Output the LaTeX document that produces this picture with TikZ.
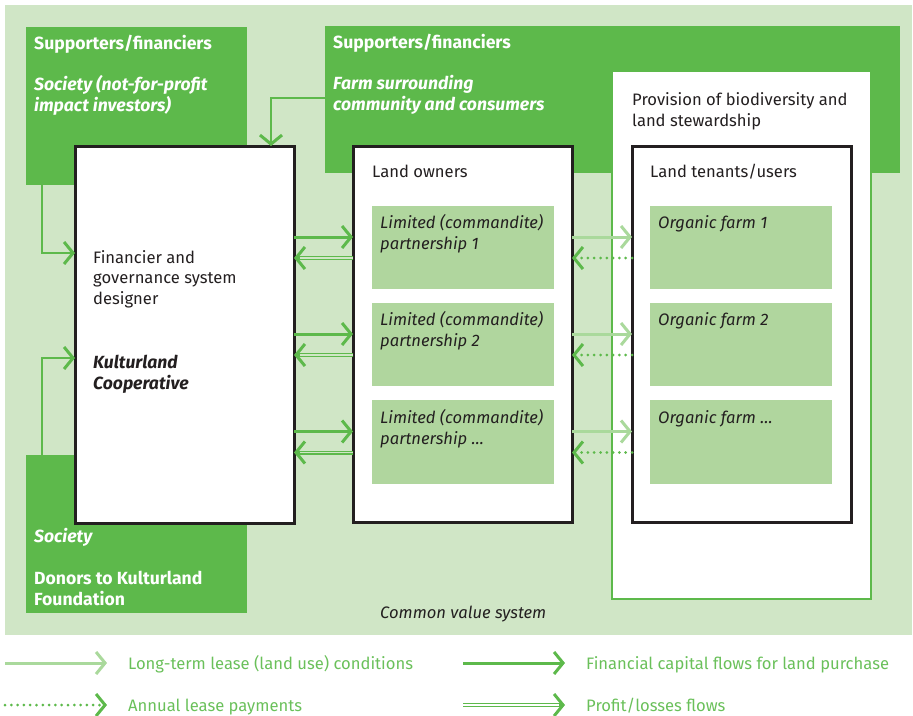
\documentclass[tikz,border=0pt]{standalone}
\usepackage{fontspec}
\setmainfont{Fira Sans}
\usetikzlibrary{arrows.meta}
\definecolor{cbg}{HTML}{D0E6C6}
\definecolor{cdark}{HTML}{5DB94B}
\definecolor{cmid}{HTML}{B0D69E}
\definecolor{clight}{HTML}{AAD99C}
\definecolor{cleg}{HTML}{6AC05A}
\definecolor{cblk}{HTML}{231F20}
\newcommand\fsz{\fontsize{16.6}{20.5}\selectfont}
\newcommand\fszb{\fontsize{17.6}{20.5}\selectfont}
\begin{document}
\begin{tikzpicture}[x=1pt,y=-1pt,
  box/.style={anchor=north west, inner sep=0pt, outer sep=0pt},
  frame/.style={box, draw=cblk, line width=3pt, fill=white},
  txt/.style={anchor=base west, inner sep=0pt, align=left},
  dk/.style={text=cblk, font=\fsz},
  dki/.style={text=cblk, font=\fsz\itshape},
  dkbi/.style={text=cblk, font=\fszb\bfseries\itshape},
  wb/.style={text=white, font=\fszb\bfseries},
  wbi/.style={text=white, font=\fszb\bfseries\itshape},
  lg/.style={text=cleg, font=\fsz},
  tip/.style={-{Straight Barb[length=9pt,width=22pt,line width=3pt]}},
  fin/.style={draw=cdark, line width=3pt, tip},
  lease/.style={draw=clight, line width=3pt, tip},
  pay/.style={draw=cdark, line width=3pt, line cap=round, dash pattern=on 0pt off 6.3pt, tip},
  profit/.style={draw=cdark, line width=4pt, tip,
    postaction={draw=#1, line width=1.4pt, -, shorten >=6pt}},
  profit/.default=cbg,
  feed/.style={draw=cdark, line width=2.8pt, tip}
]
\useasboundingbox (0,0) rectangle (913,715);
% background (common value system)
\node[box, fill=cbg, minimum width=907pt, minimum height=630pt] (bg) at (5,5) {};
% supporters boxes
\node[box, fill=cdark, minimum width=221pt, minimum height=158pt] (tl) at (26,27) {};
\node[box, fill=cdark, minimum width=575pt, minimum height=147pt] (tm) at (325,26) {};
\node[box, fill=cdark, minimum width=221pt, minimum height=158pt] (bl) at (26,455) {};
% provision box
\node[box, fill=white, draw=cdark, line width=2.5pt, minimum width=259pt, minimum height=528pt] (prov) at (612,71) {};
% main frames
\node[frame, minimum width=219pt, minimum height=377pt] (kult) at (75,146) {};
\node[frame, minimum width=219pt, minimum height=376pt] (lo) at (353,146) {};
\node[frame, minimum width=219pt, minimum height=376pt] (ten) at (632,146) {};
% inner boxes
\node[box, fill=cmid, minimum width=182pt, minimum height=83pt] (lo1) at (372,206) {};
\node[box, fill=cmid, minimum width=182pt, minimum height=83pt] (lo2) at (372,303) {};
\node[box, fill=cmid, minimum width=182pt, minimum height=84pt] (lo3) at (372,400) {};
\node[box, fill=cmid, minimum width=182pt, minimum height=83pt] (f1) at (650,206) {};
\node[box, fill=cmid, minimum width=182pt, minimum height=83pt] (f2) at (650,303) {};
\node[box, fill=cmid, minimum width=182pt, minimum height=84pt] (f3) at (650,400) {};
% texts (multi-line nodes: base = last line)
\node[txt, wb] (t1) at (34,49) {Supporters/financiers};
\node[txt, wbi] (t2) at (34,111) {Society (not-for-profit\\impact investors)};
\node[txt, wb] (t3) at (333,48) {Supporters/financiers};
\node[txt, wbi] (t4) at (333,110) {Farm surrounding\\community and consumers};
\node[txt, dk] (t5) at (632,126) {Provision of biodiversity and\\land stewardship};
\node[txt, dk] (t6) at (372,177) {Land owners};
\node[txt, dk] (t7) at (650,177) {Land tenants/users};
\node[txt, dk] (t8) at (93,304) {Financier and\\governance system\\designer};
\node[txt, dkbi] (t9) at (93,389) {Kulturland\\Cooperative};
\node[txt, dki] (p1) at (380,249) {Limited (commandite)\\partnership 1};
\node[txt, dki] (p2) at (380,346) {Limited (commandite)\\partnership 2};
\node[txt, dki] (p3) at (380,444) {Limited (commandite)\\partnership \dots};
\node[txt, dki] (o1) at (658,228) {Organic farm 1};
\node[txt, dki] (o2) at (658,325) {Organic farm 2};
\node[txt, dki] (o3) at (658,423) {Organic farm \dots};
\node[txt, wbi] (t10) at (34,542) {Society};
\node[txt, wb] (t11) at (34,605) {Donors to Kulturland\\Foundation};
\node[txt, dki] (t12) at (380,618) {Common value system};
% feeding arrows
\coordinate (tlout) at (42,185);
\coordinate (blout) at (42,455);
\coordinate (tmout) at (325,98);
\draw[feed] (tlout) |- ([yshift=81.5pt]kult.west);
\draw[feed] (blout) |- ([yshift=-23.5pt]kult.west);
\draw[feed] (tmout) -| ([xshift=86.5pt]kult.north);
% flows kulturland <-> land owners
\foreach \r in {lo1,lo2,lo3}{
  \draw[fin] ([yshift=10.5pt]kult.east |- \r.west) -- ([yshift=10.5pt]lo.west |- \r.west);
  \draw[profit] ([yshift=-10.5pt]lo.west |- \r.west) -- ([yshift=-10.5pt]kult.east |- \r.west);
}
% flows land owners <-> tenants
\foreach \r in {f1,f2,f3}{
  \draw[lease] ([yshift=10.5pt]lo.east |- \r.west) -- ([yshift=10.5pt]ten.west |- \r.west);
  \draw[pay] ([yshift=-10.5pt]ten.west |- \r.west) -- ([yshift=-10.5pt]lo.east |- \r.west);
}
% legend
\coordinate (la1) at (5,663); \coordinate (lb1) at (107,663);
\coordinate (la2) at (5,705); \coordinate (lb2) at (107,705);
\coordinate (la3) at (463,663); \coordinate (lb3) at (565,663);
\coordinate (la4) at (463,705); \coordinate (lb4) at (565,705);
\draw[lease] (la1) -- (lb1);
\draw[pay] (la2) -- (lb2);
\draw[fin] (la3) -- (lb3);
\draw[profit=white] (la4) -- (lb4);
\node[txt, lg] (g1) at (128,669) {Long-term lease (land use) conditions};
\node[txt, lg] (g2) at (128,711) {Annual lease payments};
\node[txt, lg] (g3) at (586,669) {Financial capital flows for land purchase};
\node[txt, lg] (g4) at (586,711) {Profit/losses flows};
\end{tikzpicture}
\end{document}
